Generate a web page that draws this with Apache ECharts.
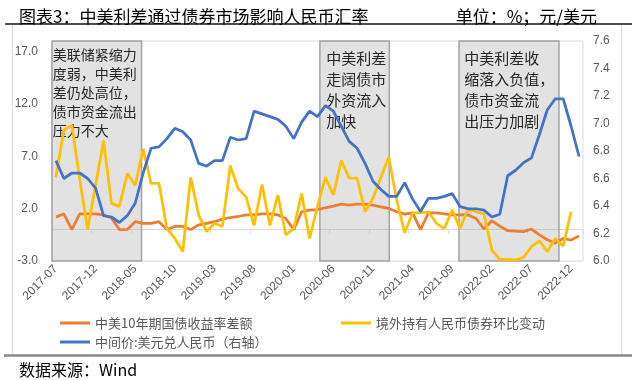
<!DOCTYPE html>
<html>
<head>
<meta charset="utf-8">
<script src="https://cdn.jsdelivr.net/npm/echarts@6/dist/echarts.min.js"></script>
<style>
html,body{margin:0;padding:0;background:#fff;}
#c{width:640px;height:380px;}
</style>
</head>
<body>
<div id="c"></div>
<script>
const categories = [
 '2017-07','2017-08','2017-09','2017-10','2017-11','2017-12',
 '2018-01','2018-02','2018-03','2018-04','2018-05','2018-06','2018-07','2018-08','2018-09','2018-10','2018-11','2018-12',
 '2019-01','2019-02','2019-03','2019-04','2019-05','2019-06','2019-07','2019-08','2019-09','2019-10','2019-11','2019-12',
 '2020-01','2020-02','2020-03','2020-04','2020-05','2020-06','2020-07','2020-08','2020-09','2020-10','2020-11','2020-12',
 '2021-01','2021-02','2021-03','2021-04','2021-05','2021-06','2021-07','2021-08','2021-09','2021-10','2021-11','2021-12',
 '2022-01','2022-02','2022-03','2022-04','2022-05','2022-06','2022-07','2022-08','2022-09','2022-10','2022-11','2022-12',
 '2023-01'
];

// 中美10年期国债收益率差额 (%)
const spreadValues = [
 1.2,1.5,0.0,1.5,1.5,1.5,
 1.4,1.1,0.0,0.0,0.75,0.6,0.6,0.75,0.0,0.3,0.3,0.0,
 0.45,0.6,0.75,1.0,1.15,1.25,1.4,1.4,1.5,1.5,1.4,1.05,
 0.0,1.7,1.86,1.9,2.08,2.24,2.43,2.33,2.43,2.43,2.33,2.17,
 2.02,1.7,1.48,1.6,0.0,1.6,1.6,1.5,1.4,1.4,1.4,1.06,
 0.06,0.84,0.33,-0.11,-0.14,-0.2,0.05,-0.5,-0.97,-1.3,-0.85,-1.0,
 -0.6
];

// 境外持有人民币债券环比变动 (%)
const bondChangeValues = [
 5.0,9.5,9.95,4.8,0.0,4.24,
 8.5,2.5,2.2,5.35,4.24,7.7,4.4,4.4,0.1,-0.85,-2.1,5.0,
 1.4,-0.2,0.6,0.3,6.1,3.9,3.1,0.4,4.3,0.4,3.3,-0.5,
 0.1,3.45,-0.85,2.2,5.0,3.3,6.6,4.9,4.9,1.7,3.0,5.0,
 6.9,2.8,-0.3,1.6,1.6,1.7,0.6,0.1,1.86,0.1,2.0,1.7,
 1.5,-1.95,-2.84,-2.84,-2.9,-2.65,-1.63,-1.07,-2.1,-0.85,-1.57,1.7,
 null
];

// 中间价:美元兑人民币 (元/美元, 右轴)
const cnyValues = [
 6.73,6.60,6.64,6.64,6.60,6.53,
 6.33,6.32,6.28,6.33,6.42,6.64,6.82,6.83,6.89,6.965,6.94,6.88,
 6.71,6.69,6.73,6.73,6.90,6.88,6.89,7.09,7.07,7.05,7.03,6.98,
 6.89,7.01,7.09,7.05,7.13,7.09,6.98,6.87,6.82,6.71,6.58,6.52,
 6.47,6.47,6.57,6.45,6.36,6.456,6.456,6.47,6.49,6.395,6.38,6.38,
 6.37,6.32,6.34,6.62,6.66,6.715,6.75,6.92,7.10,7.18,7.18,6.98,
 6.76
];

const leftTicks = [-3, 2, 7, 12, 17];
const rightTicks = [6.0, 6.2, 6.4, 6.6, 6.8, 7.0, 7.2, 7.4, 7.6];

const seriesNames = ['中美10年期国债收益率差额', '境外持有人民币债券环比变动', '中间价:美元兑人民币（右轴）'];
const boxTexts = [
 '美联储紧缩力\n度弱，中美利\n差仍处高位，\n债市资金流出\n压力不大',
 '中美利差\n走阔债市\n外资流入\n加快',
 '中美利差收\n缩落入负值，\n债市资金流\n出压力加剧'
];

const FONT = "'Liberation Sans', 'Noto Sans CJK SC', sans-serif";
const CJK = "'Noto Sans CJK SC', sans-serif";
const GREY = '#595959';

const chart = echarts.init(document.getElementById('c'), null, {renderer: 'canvas'});

function boxLabel(text, fs, lh, off) {
  return {show: true, position: 'insideTopLeft', distance: 0, offset: off,
          formatter: text, color: '#262626', fontSize: fs, lineHeight: lh, fontFamily: CJK, align: 'left'};
}

chart.setOption({
  animation: false,
  backgroundColor: '#ffffff',
  title: [
    {text: '图表3：中美利差通过债券市场影响人民币汇率', left: 14, top: 3,
     textStyle: {fontSize: 17, fontWeight: 'normal', color: '#000000', fontFamily: CJK}},
    {text: '单位：%；元/美元', right: 38, top: 3,
     textStyle: {fontSize: 17, fontWeight: 'normal', color: '#000000', fontFamily: CJK}},
    {text: '数据来源：Wind', left: 14, top: 357,
     textStyle: {fontSize: 16, fontWeight: 'normal', color: '#000000', fontFamily: CJK}}
  ],
  graphic: [
    {type: 'line', shape: {x1: 5, y1: 24, x2: 632, y2: 24}, style: {stroke: '#4d4d4d', lineWidth: 2}, silent: true},
    {type: 'line', shape: {x1: 12.5, y1: 25, x2: 12.5, y2: 354}, style: {stroke: '#dcdcdc', lineWidth: 1}, silent: true},
    {type: 'line', shape: {x1: 621.5, y1: 25, x2: 621.5, y2: 354}, style: {stroke: '#dcdcdc', lineWidth: 1}, silent: true},
    {type: 'line', shape: {x1: 4, y1: 355.5, x2: 632, y2: 355.5}, style: {stroke: '#8a8a8a', lineWidth: 2.5}, silent: true}
  ],
  legend: [
    {data: [seriesNames[0], seriesNames[2]], orient: 'vertical', left: 55, top: 311,
     icon: 'rect', itemWidth: 30, itemHeight: 3, itemGap: 5,
     textStyle: {fontSize: 13, lineHeight: 14, color: GREY, fontFamily: CJK}},
    {data: [seriesNames[1]], orient: 'vertical', left: 336, top: 311,
     icon: 'rect', itemWidth: 30, itemHeight: 3, itemGap: 5,
     textStyle: {fontSize: 13, lineHeight: 14, color: GREY, fontFamily: CJK}}
  ],
  grid: {left: 52, right: 57, top: 41, bottom: 119, show: true, borderColor: '#d9d9d9', borderWidth: 1,
         backgroundColor: 'transparent', containLabel: false, outerBoundsMode: 'none'},
  xAxis: [
    {type: 'category', data: categories, boundaryGap: true, position: 'bottom',
     axisLine: {show: false, onZero: false}, axisTick: {show: false}, splitLine: {show: false},
     axisLabel: {interval: 4, rotate: 45, fontSize: 12, color: GREY, fontFamily: FONT, margin: 6, hideOverlap: false}},
    {type: 'category', data: categories, boundaryGap: true, position: 'bottom',
     axisLine: {show: true, onZero: true, onZeroAxisIndex: 0, lineStyle: {color: '#d9d9d9', width: 1}},
     axisTick: {show: true, interval: 4, length: 4, lineStyle: {color: '#d9d9d9'}},
     axisLabel: {show: false}, splitLine: {show: false}},
    {type: 'value', min: -0.5, max: categories.length - 0.5, show: false, splitLine: {show: false}}
  ],
  yAxis: [
    {type: 'value', min: -3, max: 18, position: 'left',
     axisLine: {show: false}, axisTick: {show: false}, splitLine: {show: false},
     axisLabel: {customValues: leftTicks, formatter: v => Number(v).toFixed(1), fontSize: 12, color: GREY, fontFamily: FONT, margin: 14}},
    {type: 'value', min: 6, max: 7.6, position: 'right',
     axisLine: {show: false}, axisTick: {show: false}, splitLine: {show: false},
     axisLabel: {customValues: rightTicks, formatter: v => Number(v).toFixed(1), fontSize: 12, color: GREY, fontFamily: FONT, margin: 10}}
  ],
  series: [
    {name: seriesNames[0], type: 'line', data: spreadValues, xAxisIndex: 0, yAxisIndex: 0,
     showSymbol: false, symbol: 'none', color: '#ED7D31', lineStyle: {width: 2.75, color: '#ED7D31'}, z: 2},
    {name: seriesNames[1], type: 'line', data: bondChangeValues, xAxisIndex: 0, yAxisIndex: 0,
     showSymbol: false, symbol: 'none', color: '#FFC000', lineStyle: {width: 2.75, color: '#FFC000'}, z: 2},
    {name: seriesNames[2], type: 'line', data: cnyValues, xAxisIndex: 0, yAxisIndex: 1,
     showSymbol: false, symbol: 'none', color: '#4472C4', lineStyle: {width: 2.75, color: '#4472C4'}, z: 3},
    {name: 'boxes', type: 'line', data: [], xAxisIndex: 2, yAxisIndex: 0, z: 6, silent: true,
     markArea: {silent: true,
       itemStyle: {color: 'rgba(175,175,175,0.36)', borderColor: '#a3a3a3', borderWidth: 1.5},
       data: [
         [{xAxis: -0.5, label: boxLabel(boxTexts[0], 14, 19, [1.5, 4.5])}, {xAxis: 10.8}],
         [{xAxis: 33.3, label: boxLabel(boxTexts[1], 15, 21, [7, 7.5])}, {xAxis: 42.06}],
         [{xAxis: 50.86, label: boxLabel(boxTexts[2], 15, 21, [6, 8])}, {xAxis: 63.47}]
       ]}}
  ]
});
</script>
</body>
</html>
